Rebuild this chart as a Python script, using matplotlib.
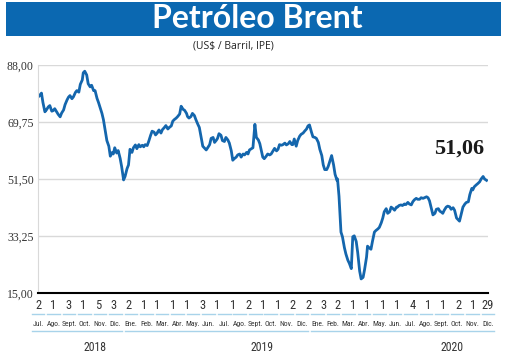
import pandas as pd
import numpy as np
import matplotlib.pyplot as plt
import matplotlib.transforms as mtransforms
from matplotlib import font_manager
from matplotlib.patches import Rectangle

# datos: precio Brent (US$/barril), 9 lecturas por mes
meses = pd.date_range('2018-07-01', periods=30, freq='MS')
dias = [1, 4, 8, 11, 15, 18, 22, 25, 29]

precios = [
    77.7, 78.2, 79.0, 76.0, 73.0, 73.6, 74.6, 75.0, 73.2,   # jul 2018
    73.4, 74.0, 73.0, 72.2, 71.4, 72.6, 73.6, 75.3, 76.8,   # ago
    77.7, 78.2, 77.2, 77.8, 79.2, 79.8, 79.3, 81.8, 83.2,   # sep
    85.5, 86.0, 84.8, 82.0, 81.0, 81.5, 79.8, 79.8, 77.3,   # oct
    76.0, 74.5, 72.5, 70.5, 66.6, 63.8, 62.0, 58.8, 60.0,   # nov
    59.5, 61.5, 59.8, 60.6, 58.1, 55.5, 51.2, 52.3, 54.8,   # dic
    56.0, 61.0, 60.0, 61.5, 62.4, 61.2, 62.5, 61.8, 62.3,   # ene 2019
    61.8, 62.5, 62.2, 63.5, 65.5, 66.8, 66.5, 65.6, 66.3,   # feb
    66.5, 67.2, 66.2, 67.3, 68.0, 68.6, 67.5, 68.0, 68.5,   # mar
    70.0, 70.5, 71.0, 71.5, 72.3, 74.8, 73.8, 73.5, 72.5,   # abr
    71.5, 71.0, 71.5, 72.5, 71.8, 70.5, 69.0, 68.0, 64.5,   # may
    62.0, 61.5, 60.8, 61.5, 62.5, 64.5, 64.8, 63.2, 64.0,   # jun
    64.5, 66.0, 65.5, 63.8, 63.5, 64.8, 64.0, 63.0, 60.5,   # jul
    57.5, 58.0, 58.5, 59.2, 59.5, 58.5, 59.5, 59.2, 60.0,   # ago
    59.5, 60.8, 61.2, 61.5, 69.0, 64.8, 64.0, 62.8, 60.0,   # sep
    58.5, 58.0, 58.8, 59.5, 59.2, 59.5, 60.5, 61.3, 60.5,   # oct
    61.0, 62.5, 62.3, 62.5, 63.0, 62.4, 62.8, 63.5, 62.5,   # nov
    62.5, 64.3, 62.0, 63.8, 65.2, 65.8, 66.2, 66.8, 67.5,   # dic
    68.5, 68.8, 66.5, 65.0, 64.8, 64.5, 63.2, 61.0, 59.0,   # ene 2020
    56.0, 54.5, 54.5, 55.5, 57.5, 59.0, 56.0, 53.0, 51.0,   # feb
    51.5, 46.0, 34.5, 33.0, 29.5, 27.5, 25.5, 24.5, 22.8,   # mar
    33.0, 33.3, 31.5, 28.0, 22.0, 19.5, 20.0, 22.5, 26.5,   # abr
    30.0, 29.5, 29.0, 31.5, 34.5, 35.0, 35.5, 36.0, 37.5,   # may
    39.0, 41.0, 42.0, 40.5, 41.0, 42.5, 42.0, 41.5, 42.5,   # jun
    42.5, 43.0, 43.2, 43.0, 43.5, 43.3, 44.0, 43.5, 43.2,   # jul
    44.2, 44.8, 45.3, 45.0, 45.0, 45.5, 45.3, 45.5, 45.8,   # ago
    45.5, 44.5, 42.0, 40.0, 40.5, 41.8, 42.0, 41.2, 40.8,   # sep
    40.5, 41.5, 42.5, 42.8, 42.6, 41.8, 42.3, 41.5, 39.0,   # oct
    38.5, 38.0, 40.5, 42.5, 43.5, 44.0, 44.2, 46.5, 48.5,   # nov
    48.0, 49.0, 49.6, 50.0, 50.6, 51.5, 52.3, 51.5, 51.06,  # dic
]

fechas = [m + pd.Timedelta(days=d - 1) for m in meses for d in dias]

# etiquetas del eje x
dia_inicio = [2, 1, 3, 1, 5, 3,
              2, 1, 1, 1, 1, 3, 1, 1, 2, 1, 1, 2,
              2, 3, 2, 1, 1, 1, 1, 4, 1, 1, 2, 1]
dia_final = 29
nombres_mes = ['Jul.', 'Ago.', 'Sept.', 'Oct.', 'Nov.', 'Dic.',
               'Ene.', 'Feb.', 'Mar.', 'Abr.', 'May.', 'Jun.', 'Jul.', 'Ago.', 'Sept.', 'Oct.', 'Nov.', 'Dic.',
               'Ene.', 'Feb.', 'Mar.', 'Abr.', 'May.', 'Jun.', 'Jul.', 'Ago.', 'Sept.', 'Oct.', 'Nov.', 'Dic.']
anios = ['2018', '2019', '2020']
meses_por_anio = [6, 12, 12]

y_ticks = [15.0, 33.25, 51.5, 69.75, 88.0]

azul = '#0b68b1'
azul_linea = '#1466ad'
celeste = '#a8d3ea'

# fuente angosta si existe, si no Liberation Sans
instaladas = {f.name for f in font_manager.fontManager.ttflist}
fuente_cond = [f for f in ['Liberation Sans Narrow', 'Roboto Condensed'] if f in instaladas] \
    + ['Liberation Sans', 'DejaVu Sans']
hay_angosta = fuente_cond[0] not in ('Liberation Sans', 'DejaVu Sans')

fig = plt.figure(figsize=(5.2, 3.58), dpi=100)

# banda del titulo
fig.add_artist(Rectangle((0.0115, 0.8994), 0.952, 0.095, transform=fig.transFigure,
                         facecolor=azul, edgecolor='none'))
fig.text(0.494, 0.947, 'Petróleo Brent', color='white', fontsize=23, fontweight='bold',
         family='Lato', ha='center', va='center')
fig.text(0.449, 0.871, '(US$ / Barril, IPE)', color='#222222', fontsize=7.5,
         family='Open Sans', ha='center', va='center')

ax = fig.add_axes([0.0731, 0.1816, 0.8654, 0.6369])
ax.plot(fechas, precios, color=azul_linea, linewidth=2.0, solid_joinstyle='round')

ax.set_ylim(15, 88)
ax.set_xlim(pd.Timestamp('2018-07-01'), pd.Timestamp('2021-01-01'))
ax.set_yticks(y_ticks)
ax.set_yticklabels([f'{v:.2f}'.replace('.', ',') for v in y_ticks],
                   family='Liberation Serif', fontsize=8.5, color='#333333')
ax.tick_params(axis='y', length=0, pad=3)
ax.set_xticks([])
ax.grid(axis='y', color='#d9d9d9', linewidth=1)
ax.set_axisbelow(True)
for lado in ['top', 'right']:
    ax.spines[lado].set_visible(False)
ax.spines['left'].set_color('#d9d9d9')
ax.spines['bottom'].set_color('black')
ax.spines['bottom'].set_linewidth(1.5)

# ultimo valor
ax.annotate(f'{precios[-1]:.2f}'.replace('.', ','), xy=(fechas[-1], precios[-1]),
            xytext=(-27, 32), textcoords='offset pixels', ha='center', va='center',
            family='Liberation Serif', fontweight='bold', fontsize=16, color='#1a1a1a')

# etiquetas bajo el grafico
t_dato = mtransforms.blended_transform_factory(ax.transData, fig.transFigure)
t_ejes = mtransforms.blended_transform_factory(ax.transAxes, fig.transFigure)

limites = list(meses) + [pd.Timestamp('2020-12-31')]
numeros = dia_inicio + [dia_final]
for fecha, num in zip(limites, numeros):
    ax.text(fecha, 0.148, str(num), transform=t_dato, ha='center', va='center',
            fontsize=9 if hay_angosta else 8.5, family=fuente_cond, color='#333333',
            clip_on=False)

pos_mes = np.linspace(0, 1, len(nombres_mes))
for p, nombre in zip(pos_mes, nombres_mes):
    ax.text(p, 0.095, nombre, transform=t_ejes, ha='center', va='center',
            fontsize=5.5 if hay_angosta else 5.0, family=fuente_cond, color='#333333',
            clip_on=False)
    ax.plot([p - 0.014, p + 0.014], [0.123, 0.123], transform=t_ejes,
            color=celeste, linewidth=1, clip_on=False)

pos_anio = [0.127, 0.498, 0.92]
inicio = 0
for anio, n, p in zip(anios, meses_por_anio, pos_anio):
    x0 = pos_mes[inicio] - 0.014
    x1 = pos_mes[inicio + n - 1] + 0.014
    ax.plot([x0, x1], [0.0754, 0.0754], transform=t_ejes, color=celeste,
            linewidth=1, clip_on=False)
    ax.text(p, 0.028, anio, transform=t_ejes, ha='center', va='center',
            fontsize=8.5, family=fuente_cond, color='#333333', clip_on=False)
    inicio += n

plt.savefig('out.png', dpi=100)
plt.close()
